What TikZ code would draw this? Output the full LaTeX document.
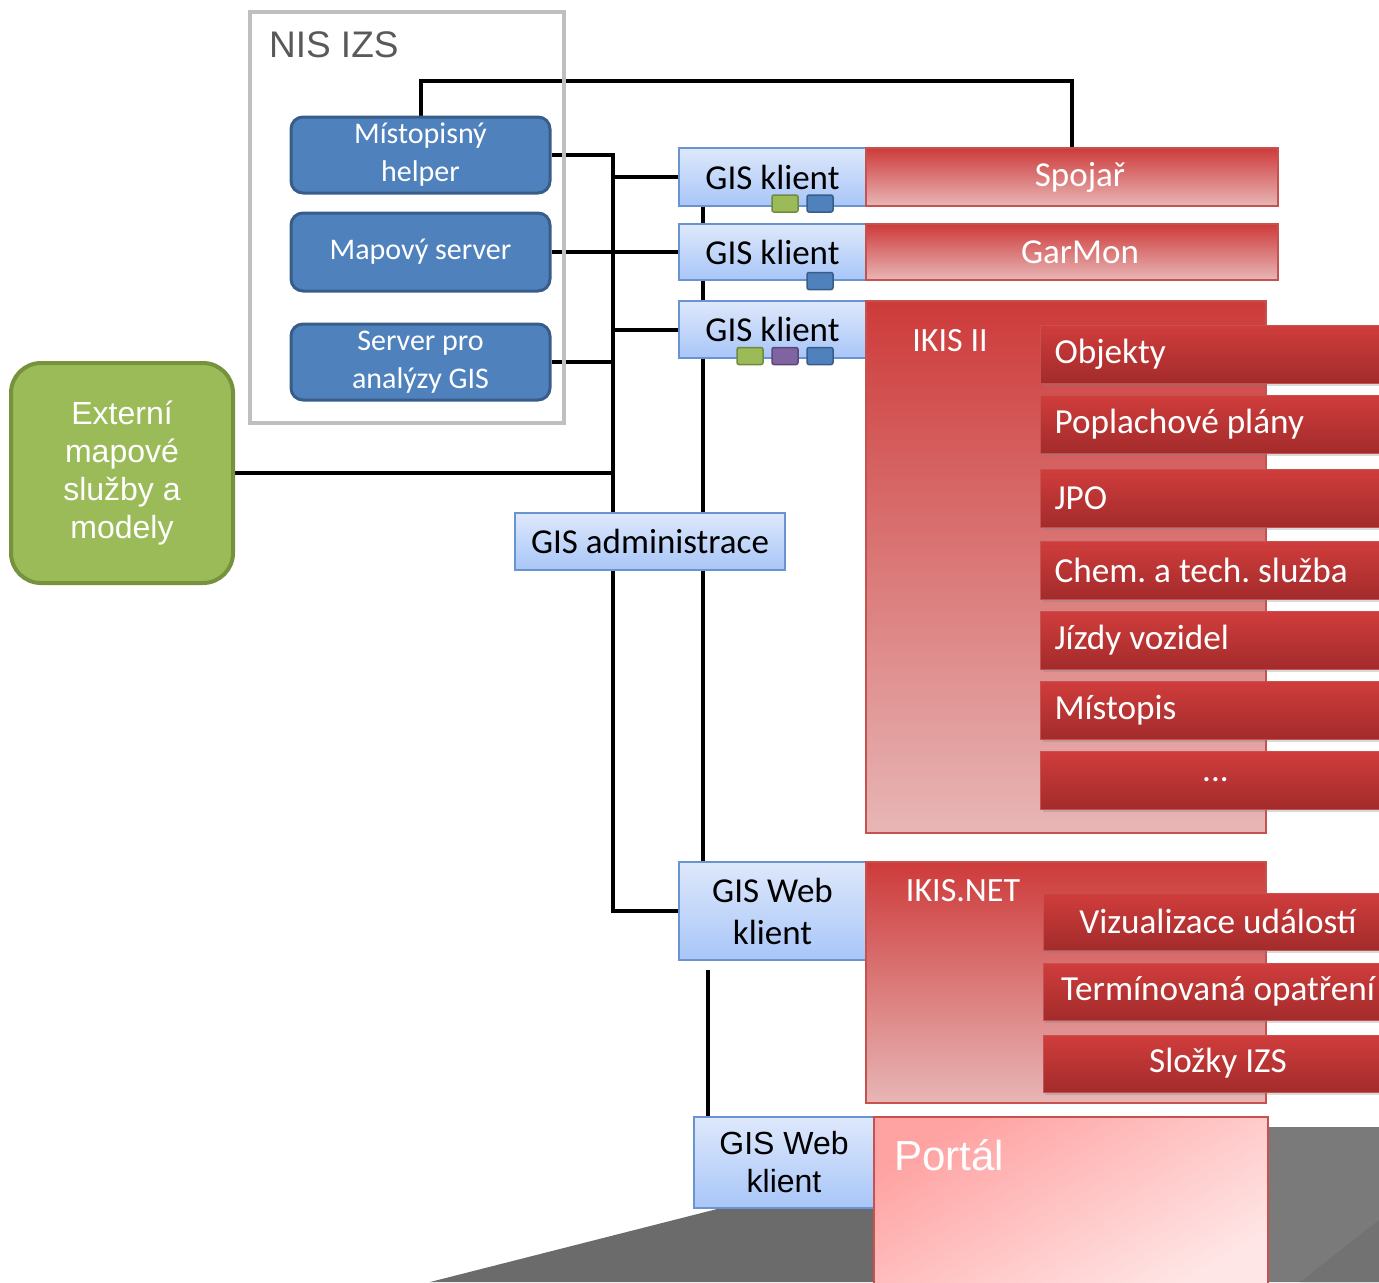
\documentclass[tikz,border=0pt]{standalone}
\usepackage{fontspec}
\setmainfont{Carlito}
\newfontfamily\arialfont{Liberation Sans}
\usetikzlibrary{positioning, shadows}
\frenchspacing

\definecolor{nisgray}{HTML}{BFBFBF}
\definecolor{nistext}{HTML}{595959}
\definecolor{serverblue}{HTML}{4F81BD}
\definecolor{serverborder}{HTML}{385D8A}
\definecolor{extgreen}{HTML}{9BBB59}
\definecolor{extborder}{HTML}{76923C}
\definecolor{iconpurple}{HTML}{8064A2}
\definecolor{iconpurpleb}{HTML}{5C4776}
\definecolor{icongreenb}{HTML}{71893F}
\definecolor{klienttop}{HTML}{DEE8FB}
\definecolor{klientbottom}{HTML}{A8C6F8}
\definecolor{klientborder}{HTML}{6A94CF}
\definecolor{apptop}{HTML}{CD3B3A}
\definecolor{appbottom}{HTML}{E8B6B6}
\definecolor{appborder}{HTML}{C65250}
\definecolor{modultop}{HTML}{D03D3C}
\definecolor{modulbottom}{HTML}{A32B2B}
\definecolor{portaltop}{HTML}{FFA2A2}
\definecolor{portalbottom}{HTML}{FFE6E6}
\definecolor{floordark}{HTML}{6B6B6B}
\definecolor{floorlight}{HTML}{7A7A7A}

\pgfdeclarelayer{bg}
\pgfsetlayers{bg,main}

\tikzset{
  server/.style={draw=serverborder, line width=1.5pt, fill=serverblue, rounded corners=6pt,
    text=white, align=center, minimum width=129.5pt, inner sep=0pt,
    font=\fontsize{15}{19}\selectfont},
  klient/.style={draw=klientborder, line width=1pt, top color=klienttop, bottom color=klientbottom,
    align=center, inner sep=0pt, minimum width=93.5pt, font=\fontsize{17.5}{21}\selectfont},
  appbar/.style={draw=appborder, line width=0.75pt, top color=apptop, bottom color=appbottom,
    text=white, inner sep=0pt, font=\fontsize{17.5}{21}\selectfont},
  modul/.style={draw=appborder, line width=0.5pt, top color=modultop, bottom color=modulbottom,
    text=white, inner ysep=0pt, minimum height=29pt, font=\fontsize{17.6}{21}\selectfont,
    drop shadow={shadow xshift=1pt, shadow yshift=-1.5pt, opacity=0.3}},
  ikon/.style={minimum width=13pt, minimum height=8.5pt, inner sep=0pt, rounded corners=1pt, line width=0.75pt},
  spoj/.style={line width=2pt, black}
}

\begin{document}
\begin{tikzpicture}[x=0.5pt, y=-0.5pt]
\useasboundingbox (0,0) rectangle (1379,1282);

% NIS IZS
\node [draw=nisgray, line width=2pt, minimum width=157pt, minimum height=205.5pt] (nis) at (407,217.5) {};
\node [anchor=west, text=nistext, font=\arialfont\fontsize{18.5}{22}\selectfont] (nislabel) at (262,45) {NIS IZS};

\node [server, minimum height=38pt] (helper) at (420.5,155) {Místopisný\\helper};
\node [server, minimum height=39pt] (mapserver) at (420.5,252) {Mapový server};
\node [server, minimum height=38pt] (analyzy) at (420.5,362) {Server pro\\analýzy GIS};

\node [draw=extborder, line width=2pt, fill=extgreen, rounded corners=15pt, minimum width=111pt,
  minimum height=110pt, text=white, align=center, font=\arialfont\fontsize{16}{19}\selectfont] (extern) at (122,473)
  {Externí\\mapové\\služby a\\modely};

% klienti
\node [klient, minimum height=29pt] (klient1) at (772.5,177) {GIS klient};
\node [klient, minimum height=28pt] (klient2) at (772.5,252) {GIS klient};
\node [klient, minimum height=28.5pt] (klient3) at (772.5,329.5) {GIS klient};
\node [klient, minimum width=135pt, minimum height=28.5pt] (admin) at (650,541.5) {GIS administrace};
\node [klient, minimum height=49pt, font=\fontsize{17.5}{21}\selectfont] (web1) at (772.5,911) {GIS Web\\klient};
\node [klient, minimum width=90pt, minimum height=45.5pt, font=\arialfont\fontsize{16}{19}\selectfont] (web2) at (784,1162.5) {GIS Web\\klient};

% aplikace
\node [appbar, minimum width=206pt, minimum height=29pt] (spojar) at (1072,177) {\hspace*{8pt}Spojař};
\node [appbar, minimum width=206pt, minimum height=28pt] (garmon) at (1072,252) {\hspace*{8pt}GarMon};
\node [appbar, minimum width=200pt, minimum height=266pt] (ikis) at (1066,567) {};
\node [text=white, font=\fontsize{17}{20}\selectfont] (ikislabel) at (950,341) {IKIS II};
\node [appbar, minimum width=200pt, minimum height=120.5pt] (ikisnet) at (1066,982.5) {};
\node [text=white, font=\fontsize{17}{20}\selectfont] (ikisnetlabel) at (963,891) {IKIS.NET};

\node [modul, anchor=west, inner xsep=7pt, text width=161pt, align=flush left] (objekty) at (1040,354) {Objekty};
\node [modul, anchor=west, inner xsep=7pt, text width=161pt, align=flush left] (poplach) at (1040,424) {Poplachové plány};
\node [modul, anchor=west, inner xsep=7pt, text width=161pt, align=flush left] (jpo) at (1040,498) {JPO};
\node [modul, anchor=west, inner xsep=7pt, text width=161pt, align=flush left] (chem) at (1040,570) {Chem. a tech. služba};
\node [modul, anchor=west, inner xsep=7pt, text width=161pt, align=flush left] (jizdy) at (1040,640) {Jízdy vozidel};
\node [modul, anchor=west, inner xsep=7pt, text width=161pt, align=flush left] (mistopis) at (1040,710) {Místopis};
\node [modul, anchor=west, inner xsep=7pt, text width=161pt, align=center] (dalsi) at (1040,780) {...};

\node [modul, minimum width=175pt, minimum height=28.5pt] (vizual) at (1218,921.5) {Vizualizace událostí};
\node [modul, minimum width=175pt, minimum height=28.5pt] (termin) at (1218,991.5) {Termínovaná opatření};
\node [modul, minimum width=175pt, minimum height=28.5pt] (slozky) at (1218,1063.5) {Složky IZS};

\node [draw=appborder, line width=1.25pt, top color=portaltop, bottom color=portalbottom, shading angle=30,
  minimum width=197pt, minimum height=86.5pt] (portal) at (1071,1203.5) {};
\node [anchor=west, text=white, font=\arialfont\fontsize{21}{25}\selectfont] (portallabel) at (887,1155) {Portál};

% ikony
\node [ikon, draw=icongreenb, fill=extgreen] (k1g) at (785,203.5) {};
\node [ikon, draw=serverborder, fill=serverblue] (k1b) at (820,203.5) {};
\node [ikon, draw=serverborder, fill=serverblue] (k2b) at (820,281) {};
\node [ikon, draw=icongreenb, fill=extgreen] (k3g) at (750,356) {};
\node [ikon, draw=iconpurpleb, fill=iconpurple] (k3p) at (785,356) {};
\node [ikon, draw=serverborder, fill=serverblue] (k3b) at (820,356) {};

\coordinate (bus) at (613,0);
\coordinate (bus2) at (703,0);
\coordinate (gap) at (708,970);

\begin{pgfonlayer}{bg}
\fill [floordark] (430,1282) -- (721,1208) -- (874,1208) -- (874,1127) -- (1379,1127) -- (1379,1282) -- cycle;
\fill [floorlight] (1268,1127) rectangle (1379,1282);
\fill [floordark!95!white] (1300,1282) -- (1379,1220) -- (1379,1282) -- cycle;

\draw [spoj] (helper.north) -- ++(0,-35) -| (spojar.north);
\draw [spoj] (helper.east) -| (bus |- web1.west) -- (web1.west);
\draw [spoj] (klient1.west) -- (klient1.west -| bus);
\draw [spoj] (klient3.west) -- (klient3.west -| bus);
\draw [spoj] (analyzy.east) -- (analyzy.east -| bus);
\draw [spoj] (extern.east) -- (extern.east -| bus);
\draw [spoj] (mapserver.east) -- (klient2.west);
\draw [spoj] (bus2 |- klient1.south) -- (bus2 |- web1.north);
\draw [spoj] (gap) -- (gap |- web2.north);
\end{pgfonlayer}
\end{tikzpicture}
\end{document}
